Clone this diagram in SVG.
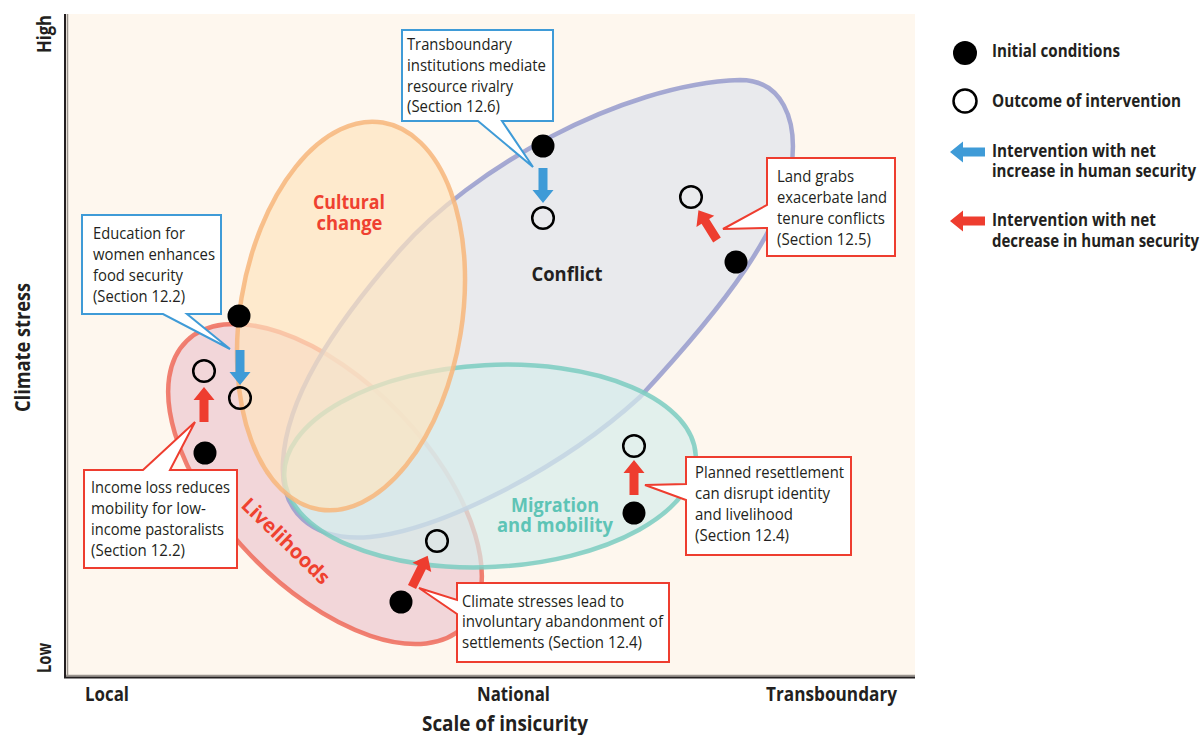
<svg xmlns="http://www.w3.org/2000/svg" xmlns:xlink="http://www.w3.org/1999/xlink" width="1203" height="735" viewBox="0 0 1203 735">
<style>
.box{font-family:"Open Sans","Noto Sans","Liberation Sans",sans-serif;font-size:17px;fill:#231f20}
.leg{font-family:"Open Sans","Noto Sans","Liberation Sans",sans-serif;font-size:17px;font-weight:700;fill:#231f20}
.ax{font-family:"Open Sans","Noto Sans","Liberation Sans",sans-serif;font-size:20px;font-weight:700;fill:#231f20}
.axt{font-family:"Open Sans","Noto Sans","Liberation Sans",sans-serif;font-size:22px;font-weight:700;fill:#231f20}
.reg{font-family:"Open Sans","Noto Sans","Liberation Sans",sans-serif;font-size:20px;font-weight:700}
.bb{fill:#fff;stroke:#3f9bd7;stroke-width:2}
.rb{fill:#fff;stroke:#ee3d2f;stroke-width:2}
.fd{fill:#000}
.od{fill:none;stroke:#000;stroke-width:2.5}
.sh{stroke-width:4.5;fill-opacity:0.7;stroke-opacity:0.85}
</style>
<defs>
<path id="arr" d="M0,-4.5 H22 V-10.5 L35,0 L22,10.5 V4.5 H0 Z"/>
</defs>
<rect x="0" y="0" width="1203" height="735" fill="#fff"/>
<g id="panel">
<rect x="66" y="14" width="849" height="663" fill="#fef7ee"/>
<line x1="67.5" y1="14" x2="67.5" y2="675" stroke="#9a948e" stroke-width="1.5"/>
<line x1="66" y1="675.5" x2="915" y2="675.5" stroke="#9a948e" stroke-width="1.5"/>
<line x1="65" y1="14" x2="65" y2="678" stroke="#231f20" stroke-width="2"/>
<line x1="64" y1="677.5" x2="915" y2="677.5" stroke="#231f20" stroke-width="2"/>
</g>
<g id="livelihoods">
<ellipse class="sh" cx="325" cy="484" rx="199" ry="103" transform="rotate(46 325 484)" fill="#edc8d0" stroke="#ee6b5a"/>
</g>
<g id="conflict">
<path class="sh" d="M740,80 C781,80 799,118 791,170 C780,230 730,300 640,397 C560,470 440,530 370,537 C310,542 280,510 283,462 C286,400 330,330 400,250 C470,170 620,84 740,80 Z" fill="#e0e4ed" stroke="#969bcd"/>
</g>
<g id="migration">
<ellipse class="sh" cx="490" cy="466" rx="206" ry="101" transform="rotate(-3 490 466)" fill="#d6edeb" stroke="#7bccc1"/>
</g>
<g id="cultural">
<ellipse class="sh" cx="351" cy="316" rx="111" ry="196" transform="rotate(9.3 351 316)" fill="#fde4bf" stroke="#f7b67b"/>
</g>
<g id="region-labels">
<text class="reg" fill="#ef4130" x="349" y="209" text-anchor="middle" textLength="72" lengthAdjust="spacingAndGlyphs">Cultural</text>
<text class="reg" fill="#ef4130" x="349.5" y="230" text-anchor="middle" textLength="66" lengthAdjust="spacingAndGlyphs">change</text>
<text class="reg" fill="#231f20" x="567" y="281" text-anchor="middle" textLength="71" lengthAdjust="spacingAndGlyphs">Conflict</text>
<text class="reg" fill="#5ec4b6" x="555" y="512" text-anchor="middle" textLength="88" lengthAdjust="spacingAndGlyphs">Migration</text>
<text class="reg" fill="#5ec4b6" x="555" y="532" text-anchor="middle" textLength="116" lengthAdjust="spacingAndGlyphs">and mobility</text>
<text class="reg" fill="#ef4130" transform="translate(281 546) rotate(44)" text-anchor="middle" textLength="114" lengthAdjust="spacingAndGlyphs">Livelihoods</text>
</g>
<g id="connectors">
<use xlink:href="#arr" fill="#3f9bd7" transform="translate(543 168) rotate(90)"/>
<use xlink:href="#arr" fill="#3f9bd7" transform="translate(240 350) rotate(90)"/>
<use xlink:href="#arr" fill="#ee3d2f" transform="translate(204 422) rotate(-90)"/>
<use xlink:href="#arr" fill="#ee3d2f" transform="translate(634 495) rotate(-90)"/>
<use xlink:href="#arr" fill="#ee3d2f" transform="translate(717 240) rotate(-122)"/>
<use xlink:href="#arr" fill="#ee3d2f" transform="translate(412 587) rotate(-63.4)"/>
</g>
<g id="points">
<circle class="fd" cx="543" cy="146" r="11.5"/>
<circle class="od" cx="543" cy="218" r="10.8"/>
<circle class="od" cx="691" cy="197" r="10.8"/>
<circle class="fd" cx="736" cy="262" r="11.5"/>
<circle class="fd" cx="239" cy="316" r="11.5"/>
<circle class="od" cx="204" cy="371" r="10.8"/>
<circle class="od" cx="240" cy="398" r="10.8"/>
<circle class="fd" cx="205" cy="453" r="11.5"/>
<circle class="od" cx="437" cy="541" r="10.8"/>
<circle class="fd" cx="401" cy="602" r="11.5"/>
<circle class="od" cx="634" cy="446" r="10.8"/>
<circle class="fd" cx="634" cy="513" r="11.5"/>
</g>
<g id="box-education">
<path class="bb" d="M82,215 H221 V314 H187 L230,349 L163,314 H82 Z"/>
<text class="box" x="93" y="239" textLength="92" lengthAdjust="spacingAndGlyphs">Education for</text>
<text class="box" x="93" y="260" textLength="122" lengthAdjust="spacingAndGlyphs">women enhances</text>
<text class="box" x="93" y="281" textLength="90" lengthAdjust="spacingAndGlyphs">food security</text>
<text class="box" x="93" y="302" textLength="92" lengthAdjust="spacingAndGlyphs">(Section 12.2)</text>
</g>
<g id="box-transboundary">
<path class="bb" d="M402,30 H553 V121 H502 L533,167 L478,121 H402 Z"/>
<text class="box" x="407" y="50" textLength="105" lengthAdjust="spacingAndGlyphs">Transboundary</text>
<text class="box" x="407" y="71" textLength="139" lengthAdjust="spacingAndGlyphs">institutions mediate</text>
<text class="box" x="407" y="92" textLength="106" lengthAdjust="spacingAndGlyphs">resource rivalry</text>
<text class="box" x="407" y="112" textLength="93" lengthAdjust="spacingAndGlyphs">(Section 12.6)</text>
</g>
<g id="box-landgrabs">
<path class="rb" d="M767,158 H895 V256 H767 V228 L723,229 L767,205 Z"/>
<text class="box" x="777" y="182" textLength="77" lengthAdjust="spacingAndGlyphs">Land grabs</text>
<text class="box" x="777" y="203" textLength="110" lengthAdjust="spacingAndGlyphs">exacerbate land</text>
<text class="box" x="777" y="224" textLength="108" lengthAdjust="spacingAndGlyphs">tenure conflicts</text>
<text class="box" x="777" y="245" textLength="94" lengthAdjust="spacingAndGlyphs">(Section 12.5)</text>
</g>
<g id="box-income">
<path class="rb" d="M84,470 H143 L195,422 L170,470 H237 V568 H84 Z"/>
<text class="box" x="91" y="493" textLength="139" lengthAdjust="spacingAndGlyphs">Income loss reduces</text>
<text class="box" x="91" y="514" textLength="115" lengthAdjust="spacingAndGlyphs">mobility for low-</text>
<text class="box" x="91" y="535" textLength="133" lengthAdjust="spacingAndGlyphs">income pastoralists</text>
<text class="box" x="91" y="556" textLength="94" lengthAdjust="spacingAndGlyphs">(Section 12.2)</text>
</g>
<g id="box-resettlement">
<path class="rb" d="M686,457 H851 V555 H686 V500 L645,485 L686,484 Z"/>
<text class="box" x="695" y="478" textLength="149" lengthAdjust="spacingAndGlyphs">Planned resettlement</text>
<text class="box" x="695" y="499" textLength="135" lengthAdjust="spacingAndGlyphs">can disrupt identity</text>
<text class="box" x="695" y="520" textLength="98" lengthAdjust="spacingAndGlyphs">and livelihood</text>
<text class="box" x="695" y="541" textLength="94" lengthAdjust="spacingAndGlyphs">(Section 12.4)</text>
</g>
<g id="box-abandonment">
<path class="rb" d="M457,583 H669 V662 H457 V614 L419,588 L457,600 Z"/>
<text class="box" x="462" y="607" textLength="162" lengthAdjust="spacingAndGlyphs">Climate stresses lead to</text>
<text class="box" x="462" y="627" textLength="201" lengthAdjust="spacingAndGlyphs">involuntary abandonment of</text>
<text class="box" x="462" y="648" textLength="180" lengthAdjust="spacingAndGlyphs">settlements (Section 12.4)</text>
</g>
<g id="axis-labels">
<text class="ax" x="85" y="701" textLength="44" lengthAdjust="spacingAndGlyphs">Local</text>
<text class="ax" x="477" y="701" textLength="73" lengthAdjust="spacingAndGlyphs">National</text>
<text class="ax" x="766" y="701" textLength="131" lengthAdjust="spacingAndGlyphs">Transboundary</text>
<text class="axt" x="422" y="731" textLength="166" lengthAdjust="spacingAndGlyphs">Scale of insicurity</text>
<text class="axt" transform="translate(30 412) rotate(-90)" textLength="129" lengthAdjust="spacingAndGlyphs">Climate stress</text>
<text class="ax" transform="translate(51 53) rotate(-90)" textLength="38" lengthAdjust="spacingAndGlyphs">High</text>
<text class="ax" transform="translate(51 673) rotate(-90)" textLength="30" lengthAdjust="spacingAndGlyphs">Low</text>
</g>
<g id="legend">
<circle class="fd" cx="965" cy="53" r="12"/>
<circle class="od" cx="965" cy="101" r="11.5"/>
<use xlink:href="#arr" fill="#3f9bd7" transform="translate(985 152) rotate(180)"/>
<use xlink:href="#arr" fill="#ee3d2f" transform="translate(985 221) rotate(180)"/>
<text class="leg" x="992" y="57" textLength="128" lengthAdjust="spacingAndGlyphs">Initial conditions</text>
<text class="leg" x="992" y="107" textLength="189" lengthAdjust="spacingAndGlyphs">Outcome of intervention</text>
<text class="leg" x="992" y="157" textLength="164" lengthAdjust="spacingAndGlyphs">Intervention with net</text>
<text class="leg" x="992" y="177" textLength="204" lengthAdjust="spacingAndGlyphs">increase in human security</text>
<text class="leg" x="992" y="226" textLength="164" lengthAdjust="spacingAndGlyphs">Intervention with net</text>
<text class="leg" x="992" y="247" textLength="207" lengthAdjust="spacingAndGlyphs">decrease in human security</text>
</g>
</svg>
